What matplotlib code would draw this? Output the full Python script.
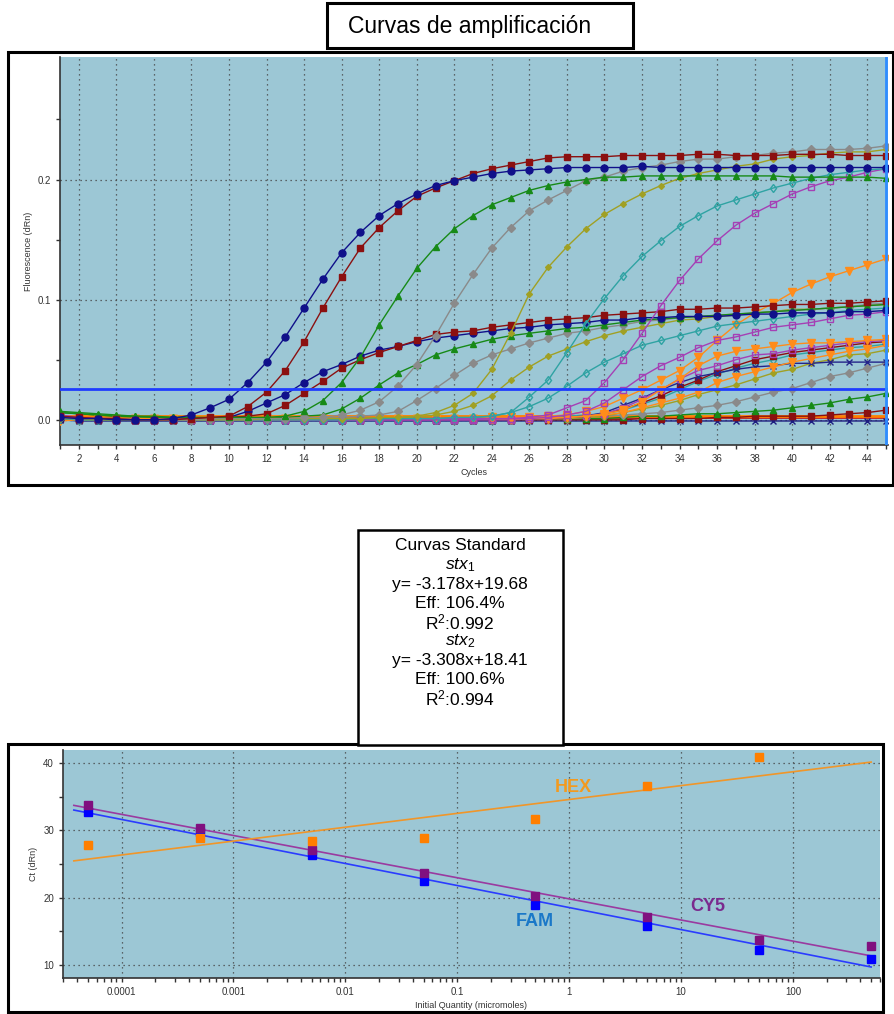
import numpy as np
import matplotlib
matplotlib.use('Agg')
import matplotlib.pyplot as plt
from matplotlib.patches import Rectangle
from matplotlib.ticker import FixedLocator, NullFormatter

plt.rcParams['font.family'] = ['Liberation Sans', 'DejaVu Sans']
plt.rcParams['mathtext.fontset'] = 'custom'
plt.rcParams['mathtext.rm'] = 'Liberation Sans'
plt.rcParams['mathtext.it'] = 'Liberation Sans:italic'

# ---- amplification curves (fluorescence x 1000, cycles 1..45) ----
cycles = np.arange(1, 46)

navy_hi = [2, 1, 1, 0, 0, 0, 1, 4, 10, 17, 31, 48, 69, 93, 117,
           139, 156, 170, 180, 188, 195, 199, 202, 205, 207, 208, 209, 210, 210, 210,
           210, 211, 210, 210, 210, 210, 210, 210, 210, 210, 210, 210, 210, 210, 210]
red_hi = [3, 2, 1, 1, 0, 0, 0, 1, 2, 3, 11, 23, 41, 65, 93,
          119, 143, 160, 174, 186, 193, 199, 205, 209, 212, 215, 218, 219, 219, 219,
          220, 220, 220, 220, 221, 221, 220, 220, 220, 221, 221, 221, 220, 220, 220]
green_hi = [7, 6, 5, 4, 3, 3, 2, 2, 2, 2, 2, 2, 3, 7, 16,
            31, 52, 79, 103, 126, 144, 159, 170, 179, 185, 191, 195, 198, 200, 202,
            202, 203, 203, 203, 203, 203, 203, 203, 203, 202, 202, 202, 202, 202, 201]
gray_hi = [2, 1, 1, 1, 0, 0, 0, 0, 1, 1, 1, 1, 1, 2, 2,
           4, 8, 15, 28, 46, 70, 97, 121, 143, 160, 174, 183, 191, 199, 202,
           207, 210, 212, 215, 217, 217, 219, 220, 222, 223, 225, 225, 225, 226, 228]
olive_hi = [1, 1, 0, 0, 0, 0, 0, 0, 0, 0, 0, 1, 1, 1, 1,
            1, 1, 2, 2, 3, 6, 12, 22, 42, 72, 105, 127, 144, 159, 171,
            180, 188, 195, 201, 205, 208, 211, 213, 217, 219, 220, 222, 223, 223, 225]
teal_hi = [1, 0, 0, 0, 0, 0, 0, 0, 0, 0, 0, 0, 0, 0, 0,
           0, 1, 1, 1, 1, 1, 2, 2, 3, 6, 19, 33, 56, 80, 101,
           120, 136, 149, 161, 170, 178, 183, 188, 193, 197, 201, 204, 206, 208, 209]
purple_hi = [3, 2, 1, 1, 0, 0, 0, 0, 0, 0, 0, 0, 0, 0, 0,
             0, 0, 0, 0, 0, 0, 1, 1, 1, 1, 2, 4, 10, 16, 31,
             50, 72, 95, 116, 134, 149, 162, 172, 180, 188, 194, 199, 202, 206, 209]

navy_mid = [1, 1, 0, 0, 0, 0, 0, 1, 1, 2, 7, 14, 21, 31, 40,
            46, 53, 58, 61, 65, 68, 70, 72, 74, 76, 77, 79, 80, 81, 83,
            83, 85, 85, 86, 86, 86, 87, 88, 88, 89, 89, 89, 90, 90, 91]
red_mid = [2, 1, 1, 0, 0, 0, 0, 0, 1, 2, 3, 5, 12, 22, 32,
           43, 50, 56, 61, 66, 71, 73, 74, 77, 79, 81, 83, 84, 85, 87,
           88, 89, 90, 92, 92, 93, 93, 94, 95, 96, 96, 97, 97, 98, 99]
green_mid = [6, 5, 4, 3, 3, 2, 2, 2, 1, 1, 1, 1, 2, 3, 4,
             9, 18, 29, 39, 46, 54, 59, 63, 67, 70, 72, 74, 76, 77, 79,
             81, 83, 84, 85, 86, 87, 88, 89, 90, 91, 92, 93, 94, 95, 96]
gray_mid = [1, 1, 0, 0, 0, 0, 0, 0, 0, 0, 1, 1, 1, 1, 1,
            2, 3, 4, 7, 16, 26, 37, 47, 54, 59, 64, 68, 72, 74, 77,
            79, 82, 83, 85, 86, 87, 88, 89, 90, 91, 92, 93, 94, 96, 97]
olive_mid = [1, 0, 0, 0, 0, 0, 0, 0, 0, 0, 0, 0, 0, 0, 1,
             1, 1, 1, 2, 2, 4, 7, 12, 20, 33, 44, 53, 59, 65, 70,
             74, 77, 80, 83, 84, 86, 87, 89, 90, 92, 92, 93, 94, 95, 96]
teal_mid = [1, 0, 0, 0, 0, 0, 0, 0, 0, 0, 0, 0, 0, 0, 0,
            0, 0, 0, 1, 1, 1, 1, 2, 3, 6, 11, 18, 28, 39, 48,
            55, 62, 66, 70, 74, 78, 80, 82, 84, 86, 88, 89, 91, 92, 93]
purple_mid = [2, 1, 1, 0, 0, 0, 0, 0, 0, 0, 0, 0, 0, 0, 0,
              0, 0, 0, 0, 0, 0, 0, 0, 1, 1, 1, 2, 4, 7, 14,
              25, 36, 45, 52, 60, 66, 69, 73, 77, 79, 81, 84, 87, 88, 90]
orange_hi = [1, 1, 1, 1, 1, 1, 1, 1, 1, 1, 1, 1, 1, 1, 1,
             1, 1, 1, 1, 1, 1, 1, 1, 2, 2, 2, 3, 4, 7, 11,
             18, 25, 33, 41, 52, 66, 79, 89, 97, 106, 113, 119, 124, 129, 134]

orange_mid = [0, 0, 1, 1, 1, 1, 1, 1, 1, 1, 1, 1, 1, 1, 1,
              1, 1, 1, 1, 1, 1, 1, 1, 1, 1, 1, 2, 2, 3, 5,
              8, 15, 25, 34, 45, 53, 57, 59, 61, 63, 64, 64, 65, 66, 67]
orange_lo = [-1, 0, 0, 1, 1, 1, 1, 1, 1, 1, 1, 1, 1, 1, 1,
             1, 1, 1, 1, 1, 1, 1, 1, 1, 1, 1, 1, 2, 3, 4,
             6, 10, 14, 18, 23, 31, 36, 40, 44, 48, 51, 54, 57, 59, 62]
purple_lo = [4, 2, 1, 0, 0, 0, 0, 0, 0, 0, 0, 0, 0, 0, 0,
             0, 0, 0, 0, 0, 0, 0, 0, 0, 0, 1, 1, 2, 3, 5,
             10, 17, 25, 34, 41, 45, 50, 54, 55, 58, 60, 62, 64, 65, 66]
navyx_lo = [1, 0, 0, 0, 0, 0, 0, 0, 0, 0, 0, 0, 0, 0, 0,
            0, 0, 0, 0, 0, 0, 0, 0, 0, 0, 1, 1, 2, 3, 6,
            12, 18, 25, 31, 36, 39, 42, 44, 45, 47, 47, 48, 48, 48, 48]
red_lo = [2, 1, 0, 0, 0, 0, 0, 0, 0, 0, 0, 0, 0, 0, 0,
          0, 0, 0, 0, 0, 0, 0, 0, 0, 0, 1, 1, 2, 3, 5,
          9, 14, 20, 27, 33, 40, 45, 50, 53, 56, 58, 60, 62, 64, 65]
teal_lo = [1, 0, 0, 0, 0, 0, 0, 0, 0, 0, 0, 0, 0, 0, 0,
           0, 0, 0, 0, 0, 0, 0, 0, 0, 1, 1, 2, 3, 4, 5,
           8, 13, 18, 25, 32, 38, 43, 47, 50, 54, 56, 58, 60, 61, 63]
olive_lo = [1, 0, 0, 0, 0, 0, 0, 0, 0, 0, 0, 0, 0, 0, 0,
            0, 0, 0, 0, 0, 0, 0, 0, 0, 0, 1, 1, 1, 2, 3,
            6, 9, 12, 16, 21, 25, 29, 34, 39, 42, 47, 50, 54, 55, 58]
gray_lo = [2, 1, 0, 0, 0, 0, 0, 0, 0, 0, 0, 0, 0, 0, 0,
           0, 0, 0, 0, 0, 0, 0, 0, 0, 0, 1, 1, 1, 2, 3,
           4, 5, 6, 8, 10, 12, 15, 19, 23, 26, 31, 36, 39, 43, 47]
green_lo = [6, 5, 4, 3, 2, 2, 1, 1, 1, 1, 1, 1, 1, 1, 1,
            1, 1, 1, 1, 1, 1, 1, 1, 1, 1, 1, 1, 1, 1, 1,
            2, 3, 3, 4, 5, 5, 6, 7, 8, 10, 12, 14, 17, 19, 22]
red_vlo = [1, 0, 0, 0, 0, 0, 0, 0, 0, 0, 0, 0, 0, 0, 0,
           0, 0, 0, 0, 0, 0, 0, 0, 0, 0, 0, 0, 0, 0, 0,
           0, 1, 1, 1, 1, 2, 2, 3, 3, 3, 3, 4, 5, 6, 8]
navy_flat = [0, -1, -1, -1, -1, -1, -1, -1, -1, -1, -1, -1, -1, -1, -1,
             -1, -1, -1, -1, -1, -1, -1, -1, -1, -1, -1, -1, -1, -1, -1,
             -1, -1, -1, -1, -1, -1, -1, -1, -1, -1, -1, -1, -1, -1, -1]
threshold = 0.026
baseline_orange = 0.0035
baseline_red = 0.002

# ---- standard curves ----
quantities = [0.00005, 0.0005, 0.005, 0.05, 0.5, 5, 50, 500]
fam_ct = [32.7, 29.8, 26.4, 22.4, 18.9, 15.8, 12.2, 10.9]
cy5_ct = [33.8, 30.4, 27.1, 23.6, 20.2, 17.1, 13.7, 12.7]
hex_ct = [27.9, 28.9, 28.5, 28.9, 31.7, 36.6, 41.0]

box_lines = ['Curvas Standard', r'$\mathit{stx}_1$', 'y= -3.178x+19.68', 'Eff: 106.4%',
             r'R$^2$:0.992', r'$\mathit{stx}_2$', 'y= -3.308x+18.41', 'Eff: 100.6%',
             r'R$^2$:0.994']

W, H = 895, 1014
BG = '#9cc7d5'
fig = plt.figure(figsize=(W / 100, H / 100), dpi=100)


def fbox(x0, y0, x1, y1, lw=2.2, z=-5):
    # rectangle in pixel coords (top-left origin)
    r = Rectangle((x0 / W, 1 - y1 / H), (x1 - x0) / W, (y1 - y0) / H,
                  transform=fig.transFigure, fill=True, facecolor='white',
                  edgecolor='black', lw=lw, zorder=z)
    fig.patches.append(r)


def axrect(x0, y0, x1, y1):
    return [x0 / W, 1 - y1 / H, (x1 - x0) / W, (y1 - y0) / H]


fbox(8, 52, 893, 485)
fbox(8, 744, 883, 1012)
fbox(358, 530, 563, 745, lw=1.8, z=-4)
fbox(327, 3, 633, 48, lw=2.2, z=-4)
fig.text(470 / W, 1 - 26 / H, 'Curvas de amplificación', ha='center', va='center', fontsize=16.5)

# ---- top panel ----
ax = fig.add_axes(axrect(60, 57, 888, 445))
ax.set_zorder(2)
ax.set_facecolor(BG)

styles = [
    (navy_flat, '#1c1c80', 'x', True, 4.5),
    (red_vlo, '#8b1010', 's', True, 4.5),
    (green_lo, '#178a17', '^', True, 5),
    (gray_lo, '#8a8a8a', 'D', True, 4),
    (olive_lo, '#a0a024', 'D', True, 3),
    (teal_lo, '#2fa3a3', 'd', False, 4.5),
    (red_lo, '#8b1010', 's', True, 4.5),
    (navyx_lo, '#24248a', 'x', True, 5),
    (purple_lo, '#a540b5', 's', False, 5),
    (orange_lo, '#ff8c1a', 'v', True, 5.5),
    (orange_mid, '#ff8c1a', 'v', True, 5.5),
    (orange_hi, '#ff8c1a', 'v', True, 5.5),
    (purple_mid, '#a540b5', 's', False, 5),
    (teal_mid, '#2fa3a3', 'd', False, 4.5),
    (olive_mid, '#a0a024', 'D', True, 3),
    (gray_mid, '#8a8a8a', 'D', True, 4),
    (green_mid, '#178a17', '^', True, 5),
    (navy_mid, '#10108a', 'o', True, 5),
    (red_mid, '#8b1010', 's', True, 4.5),
    (purple_hi, '#a540b5', 's', False, 5),
    (teal_hi, '#2fa3a3', 'd', False, 4.5),
    (olive_hi, '#a0a024', 'D', True, 3),
    (gray_hi, '#8a8a8a', 'D', True, 4),
    (green_hi, '#178a17', '^', True, 5),
    (red_hi, '#8b1010', 's', True, 4.5),
    (navy_hi, '#10108a', 'o', True, 5),
]
for vals, col, mk, filled, ms in styles:
    ax.plot(cycles, np.array(vals) / 1000, color=col, lw=1.0, marker=mk, ms=ms,
            mfc=col if filled else 'none', mec=col, mew=1.0, zorder=3)

ax.axhline(baseline_red, color='#c02020', lw=2, zorder=2)
ax.axhline(baseline_orange, color='#ff7f00', lw=2, zorder=2)
ax.axhline(threshold, color='#1f3cff', lw=2, zorder=4)
ax.axvline(45, color='#2f8cff', lw=2, zorder=4)

ax.set_xlim(1, 45.1)
ax.set_ylim(-0.021, 0.302)
ax.set_xticks(range(2, 45, 2))
ax.xaxis.set_minor_locator(FixedLocator(range(1, 46)))
ax.set_yticks([0, 0.1, 0.2])
ax.set_yticklabels(['0.0', '0.1', '0.2'])
ax.yaxis.set_minor_locator(FixedLocator([0.05, 0.15, 0.25]))
ax.tick_params(which='both', direction='out', length=3, width=1, color='#333333',
               labelsize=7, labelcolor='#333333')
ax.grid(True, which='major', ls=(0, (1, 3)), color='#444444', lw=0.9)
for s in ['top', 'right']:
    ax.spines[s].set_visible(False)
for s in ['left', 'bottom']:
    ax.spines[s].set_color('#333333')
    ax.spines[s].set_linewidth(1.2)
ax.set_xlabel('Cycles', fontsize=6.5, color='#333333', labelpad=3)
ax.set_ylabel('Fluorescence (dRn)', fontsize=6.5, color='#333333', labelpad=3)

# ---- text box ----
for i, t in enumerate(box_lines):
    fig.text(460 / W, 1 - (546 + i * 19.0) / H, t, ha='center', va='center', fontsize=12.5)

# ---- bottom panel ----
bx = fig.add_axes(axrect(63, 750, 880, 978))
bx.set_zorder(2)
bx.set_facecolor(BG)
bx.set_xscale('log')
lq = np.log10(quantities)
xfit = np.array([quantities[0] * 0.75, quantities[-1]])
series = [
    (fam_ct, '#0000ff', '#2a3cff'),
    (cy5_ct, '#80107f', '#9a3aa0'),
    (hex_ct, '#ff7f00', '#f0962a'),
]
for ct, mcol, lcol in series:
    n = len(ct)
    k, b = np.polyfit(lq[:n], ct, 1)
    bx.plot(xfit, k * np.log10(xfit) + b, color=lcol, lw=1.2, zorder=3)
    bx.plot(quantities[:n], ct, ls='none', marker='s', ms=5.5, color=mcol, zorder=4)

bx.text(1.1, 36.4, 'HEX', color='#f39a1e', fontsize=13, fontweight='bold', ha='center', va='center')
bx.text(0.49, 16.5, 'FAM', color='#1a78c8', fontsize=13, fontweight='bold', ha='center', va='center')
bx.text(17.4, 18.6, 'CY5', color='#7a2a8e', fontsize=13, fontweight='bold', ha='center', va='center')

bx.set_xlim(3e-5, 600)
bx.set_ylim(8, 42)
bx.set_xticks([1e-4, 1e-3, 1e-2, 1e-1, 1, 10, 100])
bx.set_xticklabels(['0.0001', '0.001', '0.01', '0.1', '1', '10', '100'])
bx.xaxis.set_minor_formatter(NullFormatter())
bx.set_yticks([10, 20, 30, 40])
bx.yaxis.set_minor_locator(FixedLocator([15, 25, 35]))
bx.tick_params(which='both', direction='out', length=3, width=1, color='#333333',
               labelsize=7, labelcolor='#333333')
bx.grid(True, which='major', ls=(0, (1, 3)), color='#444444', lw=0.9)
for s in ['top', 'right']:
    bx.spines[s].set_visible(False)
for s in ['left', 'bottom']:
    bx.spines[s].set_color('#333333')
    bx.spines[s].set_linewidth(1.2)
bx.set_xlabel('Initial Quantity (micromoles)', fontsize=6.5, color='#333333', labelpad=3)
bx.set_ylabel('Ct (dRn)', fontsize=6.5, color='#333333', labelpad=4)

fig.savefig('out.png', dpi=100)
